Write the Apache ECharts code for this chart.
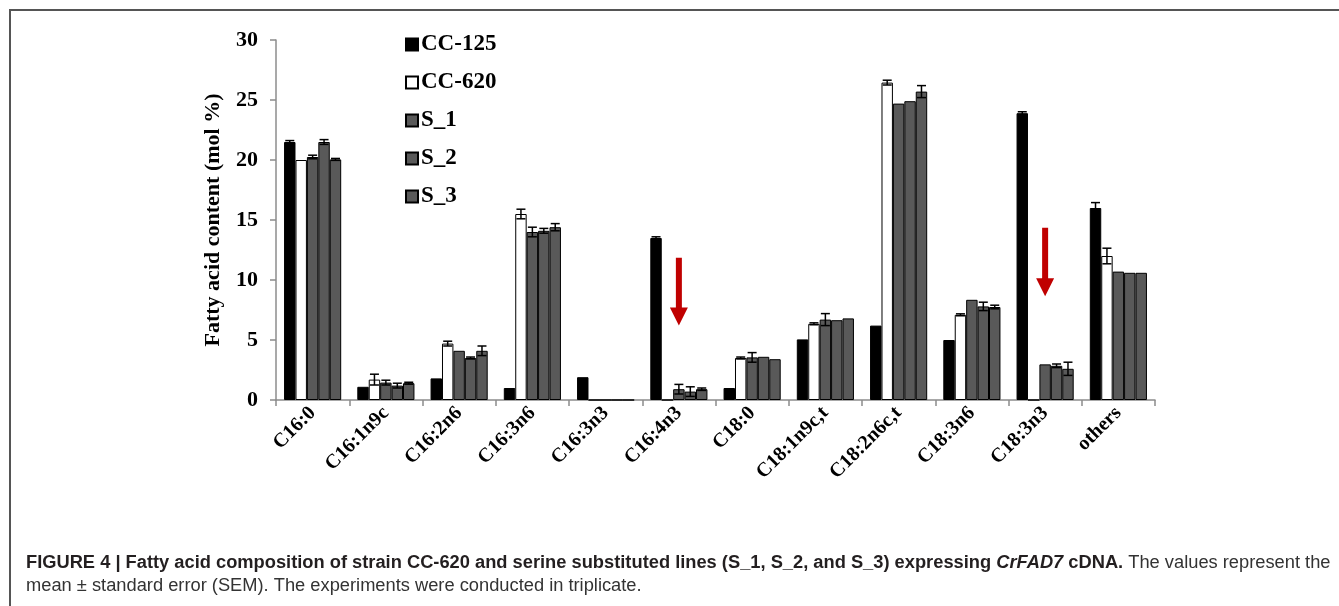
<!DOCTYPE html>
<html>
<head>
<meta charset="utf-8">
<script src="https://cdn.jsdelivr.net/npm/echarts@6/dist/echarts.min.js"></script>
<style>
html, body { margin: 0; padding: 0; background: #fff; }
#chart { width: 1339px; height: 606px; }
</style>
</head>
<body>
<div id="chart"></div>
<script>
// fatty acid categories
var categories = ['C16:0', 'C16:1n9c', 'C16:2n6', 'C16:3n6', 'C16:3n3', 'C16:4n3',
    'C18:0', 'C18:1n9c,t', 'C18:2n6c,t', 'C18:3n6', 'C18:3n3', 'others']
var seriesNames = ['CC-125', 'CC-620', 'S_1', 'S_2', 'S_3']

// mean values (mol %)
var cc125 = [21.5, 1.1, 1.8, 1.0, 1.9, 13.5, 1.0, 5.05, 6.2, 5.0, 23.9, 16.0]
var cc620 = [20.0, 1.7, 4.7, 15.5, 0, 0, 3.5, 6.35, 26.45, 7.1, 0, 12.0]
var s1 = [20.25, 1.45, 4.1, 14.0, 0, 0.9, 3.55, 6.7, 24.7, 8.35, 2.97, 10.7]
var s2 = [21.5, 1.2, 3.5, 14.1, 0, 0.7, 3.6, 6.65, 24.9, 7.8, 2.85, 10.6]
var s3 = [20.05, 1.4, 4.1, 14.4, 0, 0.9, 3.4, 6.8, 25.7, 7.75, 2.6, 10.6]

// standard errors
var cc125Err = [0.12, 0, 0, 0, 0, 0.1, 0, 0, 0, 0, 0.12, 0.45]
var cc620Err = [0, 0.45, 0.2, 0.4, 0, 0, 0.08, 0.08, 0.2, 0.08, 0, 0.65]
var s1Err = [0.15, 0.2, 0, 0.4, 0, 0.4, 0.4, 0.5, 0, 0, 0, 0]
var s2Err = [0.2, 0.2, 0.08, 0.2, 0, 0.4, 0, 0, 0, 0.35, 0.15, 0]
var s3Err = [0.08, 0.08, 0.4, 0.3, 0, 0.1, 0, 0, 0.5, 0.15, 0.55, 0]

var yTicks = [0, 5, 10, 15, 20, 25, 30]

var values = [cc125, cc620, s1, s2, s3]
var errors = [cc125Err, cc620Err, s1Err, s2Err, s3Err]
var colors = ['#000000', '#ffffff', '#595959', '#595959', '#595959']

var catGap = 0.22
var serif = '"Liberation Serif", "Times New Roman", serif'

var myChart = echarts.init(document.getElementById('chart'))

var series = []
values.forEach(function(v, i) {
    series.push({
        name: seriesNames[i],
        type: 'bar',
        data: v,
        barGap: '0%',
        barCategoryGap: (catGap * 100) + '%',
        itemStyle: { color: colors[i], borderColor: '#000', borderWidth: 1 },
        emphasis: { disabled: true }
    })
})
errors.forEach(function(e, i) {
    series.push({
        type: 'custom',
        z: 10,
        silent: true,
        data: e.map(function(err, k) { return [k, values[i][k], err] }),
        renderItem: function(params, api) {
            var err = api.value(2)
            if (!err) return null
            var cat = api.value(0)
            var val = api.value(1)
            var band = api.size([1, 0])[0]
            var gw = band * (1 - catGap)
            var bw = gw / 5
            var x = api.coord([cat, val])[0] - gw / 2 + bw * (i + 0.5)
            var yTop = api.coord([cat, val + err])[1]
            var yBot = api.coord([cat, val - err])[1]
            var cap = 4.5
            var st = { stroke: '#000', lineWidth: 1.5 }
            return {
                type: 'group',
                children: [
                    { type: 'line', shape: { x1: x, y1: yTop, x2: x, y2: yBot }, style: st },
                    { type: 'line', shape: { x1: x - cap, y1: yTop, x2: x + cap, y2: yTop }, style: st },
                    { type: 'line', shape: { x1: x - cap, y1: yBot, x2: x + cap, y2: yBot }, style: st }
                ]
            }
        }
    })
})

myChart.setOption({
    animation: false,
    backgroundColor: '#fff',
    grid: { left: 276, right: 184, top: 40, bottom: 206 },
    legend: {
        data: seriesNames,
        orient: 'vertical',
        left: 400,
        top: 28,
        itemWidth: 12,
        itemHeight: 12,
        itemGap: 15,
        icon: 'rect',
        textStyle: { fontFamily: serif, fontWeight: 'bold', fontSize: 23, color: '#000', padding: [0, 0, 0, -2] }
    },
    xAxis: {
        type: 'category',
        data: categories,
        axisLine: { lineStyle: { color: '#8c8c8c', width: 1.5 } },
        axisTick: { show: true, length: 6, lineStyle: { color: '#8c8c8c', width: 1.5 } },
        axisLabel: {
            interval: 0,
            rotate: 45,
            margin: 10,
            fontFamily: serif,
            fontWeight: 'bold',
            fontSize: 20,
            color: '#000'
        }
    },
    yAxis: {
        type: 'value',
        min: yTicks[0],
        max: yTicks[yTicks.length - 1],
        interval: 5,
        name: 'Fatty acid content (mol %)',
        nameLocation: 'middle',
        nameGap: 52,
        nameTextStyle: { fontFamily: serif, fontWeight: 'bold', fontSize: 22, color: '#000' },
        splitLine: { show: false },
        axisLine: { show: true, lineStyle: { color: '#8c8c8c', width: 1.5 } },
        axisTick: { show: true, length: 6, lineStyle: { color: '#8c8c8c', width: 1.5 } },
        axisLabel: { margin: 18, fontFamily: serif, fontWeight: 'bold', fontSize: 22, color: '#000' }
    },
    series: series
})

// red arrows (annotations) and figure frame + caption
function arrow(cat, fromVal, toVal) {
    var p1 = myChart.convertToPixel({ gridIndex: 0 }, [cat, fromVal])
    var p2 = myChart.convertToPixel({ gridIndex: 0 }, [cat, toVal])
    var x = p1[0], y1 = p1[1], y2 = p2[1]
    var head = 18, hw = 9, sw = 3
    return {
        type: 'polygon',
        shape: { points: [[x - sw, y1], [x + sw, y1], [x + sw, y2 - head], [x + hw, y2 - head], [x, y2], [x - hw, y2 - head], [x - sw, y2 - head]] },
        style: { fill: '#c00000' }
    }
}

var capFont = '"Liberation Sans", Arial, sans-serif'
myChart.setOption({
    graphic: [
        { type: 'line', shape: { x1: 9, y1: 10, x2: 1339, y2: 10 }, style: { stroke: '#555', lineWidth: 2 } },
        { type: 'line', shape: { x1: 10, y1: 10, x2: 10, y2: 606 }, style: { stroke: '#555', lineWidth: 2 } },
        arrow('C16:4n3', 11.85, 6.2),
        arrow('C18:3n3', 14.35, 8.65),
        {
            type: 'text',
            left: 26,
            top: 554,
            style: {
                text: '{b|FIGURE 4 | Fatty acid composition of strain CC-620 and serine substituted lines (S_1, S_2, and S_3) expressing }{bi|CrFAD7}{b| cDNA.}{n| The values represent the}\n{n|mean ± standard error (SEM). The experiments were conducted in triplicate.}',
                rich: {
                    b: { fontFamily: capFont, fontWeight: 'bold', fontSize: 18.3, fill: '#231f20', lineHeight: 23 },
                    bi: { fontFamily: capFont, fontWeight: 'bold', fontStyle: 'italic', fontSize: 18.3, fill: '#231f20', lineHeight: 23 },
                    n: { fontFamily: capFont, fontSize: 18.3, fill: '#333', lineHeight: 23 }
                }
            }
        }
    ]
})
</script>
</body>
</html>
